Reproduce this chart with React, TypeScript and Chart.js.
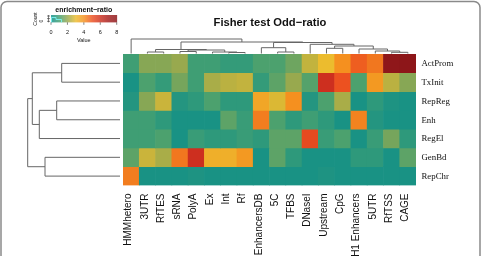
import { useEffect, useRef } from "react";
import { Chart, registerables } from "chart.js";

Chart.register(...registerables);

const columns = [
  "HMMhetero", "3UTR", "RfTES", "sRNA", "PolyA", "Ex", "Int", "Rf", "EnhancersDB",
  "5C", "TFBS", "DNaseI", "Upstream", "CpG", "H1 Enhancers", "5UTR", "RfTSS", "CAGE",
];
const rows = ["ActProm", "TxInit", "RepReg", "Enh", "RegEl", "GenBd", "RepChr"];

// Fisher odds ratios, one array per row, in column order
const actProm = [0.9, 1.8, 1.8, 2.0, 0.9, 0.9, 0.7, 0.7, 1.1, 1.1, 1.5, 2.5, 3.0, 4.0, 4.8, 4.4, 7.8, 7.9];
const txInit = [0.2, 1.1, 0.7, 1.6, 0.9, 2.2, 2.4, 2.5, 0.7, 1.3, 2.0, 1.2, 6.0, 5.0, 1.1, 3.8, 2.4, 1.8];
const repReg = [0.4, 1.8, 2.6, 0.4, 0.6, 1.1, 0.6, 0.6, 3.5, 2.8, 4.0, 0.4, 1.1, 2.2, 0.2, 0.6, 0.3, 0.2];
const enh = [0.9, 0.9, 0.6, 0.2, 0.2, 0.2, 1.3, 0.8, 4.3, 1.1, 0.6, 0.9, 0.6, 0.2, 4.2, 0.4, 0.2, 0.2];
const regEl = [0.9, 0.9, 1.1, 0.2, 0.8, 0.6, 0.6, 0.8, 0.6, 1.3, 1.3, 5.2, 0.8, 1.1, 0.2, 0.8, 1.6, 0.6];
const genBd = [1.3, 2.6, 2.2, 4.4, 6.0, 3.3, 3.3, 3.8, 0.2, 1.3, 0.6, 0.2, 0.2, 0.2, 0.6, 0.6, 0.2, 1.3];
const repChr = [4.3, 0.2, 0.2, 0.2, 0.3, 0.2, 0.2, 0.2, 0.2, 0.2, 0.2, 0.2, 0.3, 0.2, 0.2, 0.2, 0.2, 0.2];
const rowValues = [actProm, txInit, repReg, enh, regEl, genBd, repChr];

// colour key
const keyTicks = [0, 2, 4, 6, 8];
const keyStops: [number, string][] = [
  [0, "#0e8e89"], [1, "#44a072"], [2, "#98a94e"], [3, "#ecbc2e"],
  [4, "#f5901f"], [5, "#ec5120"], [6, "#cd2f1f"], [7, "#a41d1c"], [8, "#8a1519"],
];

// hclust-style merges: negative = leaf (1-based), positive = earlier merge (1-based)
const colMerge = [
  [-2, -3], [-4, -5], [-7, -8], [-6, 3], [2, 4], [1, 5], [-10, -11], [-9, 7],
  [-17, -18], [-16, 9], [-15, 10], [-13, -14], [12, 11], [-12, 13], [8, 14], [6, 15], [-1, 16],
];
const colHeight = [1.5, 2.0, 1.0, 1.5, 3.5, 4.0, 1.5, 5.8, 1.2, 2.5, 4.5, 5.2, 7.5, 9.2, 11.0, 11.5, 14.5];
const rowMerge = [[-1, -2], [-3, -4], [2, -5], [1, 3], [-6, -7], [4, 5]];
const rowHeight = [58.3, 63.3, 80.7, 87.7, 75.0, 92.3];

function hexToRgb(h: string): number[] {
  const n = parseInt(h.slice(1), 16);
  return [(n >> 16) & 255, (n >> 8) & 255, n & 255];
}

function ratioColor(v: number): string {
  const t = Math.max(0, Math.min(8, v));
  for (let i = 0; i < keyStops.length - 1; i++) {
    const [v0, c0] = keyStops[i];
    const [v1, c1] = keyStops[i + 1];
    if (t <= v1) {
      const f = (t - v0) / (v1 - v0);
      const a = hexToRgb(c0);
      const b = hexToRgb(c1);
      const m = a.map((x, k) => Math.round(x + (b[k] - x) * f));
      return `rgb(${m[0]},${m[1]},${m[2]})`;
    }
  }
  return keyStops[keyStops.length - 1][1];
}

function drawTree(
  ctx: CanvasRenderingContext2D,
  merge: number[][],
  height: number[],
  leafPos: (i: number) => number,
  heightPos: (h: number) => number,
  sideways: boolean,
) {
  const pos: number[] = [];
  const hgt: number[] = [];
  const node = (id: number) => (id < 0 ? { p: leafPos(-id - 1), h: 0 } : { p: pos[id - 1], h: hgt[id - 1] });
  merge.forEach(([a, b], k) => {
    const A = node(a);
    const B = node(b);
    const hp = heightPos(height[k]);
    ctx.beginPath();
    if (sideways) {
      ctx.moveTo(heightPos(A.h), A.p);
      ctx.lineTo(hp, A.p);
      ctx.lineTo(hp, B.p);
      ctx.lineTo(heightPos(B.h), B.p);
    } else {
      ctx.moveTo(A.p, heightPos(A.h));
      ctx.lineTo(A.p, hp);
      ctx.lineTo(B.p, hp);
      ctx.lineTo(B.p, heightPos(B.h));
    }
    ctx.stroke();
    pos[k] = (A.p + B.p) / 2;
    hgt[k] = height[k];
  });
}

const SANS = "'Liberation Sans', Arial, Helvetica, sans-serif";
const SERIF = "'Liberation Serif', 'Times New Roman', serif";

const heatmapDecor = {
  id: "heatmapDecor",
  beforeDraw(chart: any) {
    const { ctx, width, height } = chart;
    ctx.save();
    ctx.fillStyle = "#ffffff";
    ctx.fillRect(0, 0, width, height);
    ctx.restore();
  },
  afterDraw(chart: any) {
    const { ctx, chartArea: area } = chart;
    const xs = chart.scales.x;
    const ys = chart.scales.y;
    ctx.save();

    // frame: left, top and right edges with rounded top corners
    const r = 6;
    ctx.strokeStyle = "#8a8a8a";
    ctx.lineWidth = 1.5;
    ctx.beginPath();
    ctx.moveTo(1, 256);
    ctx.lineTo(1, 1.5 + r);
    ctx.arcTo(1, 1.5, 1 + r, 1.5, r);
    ctx.lineTo(480 - r, 1.5);
    ctx.arcTo(480, 1.5, 480, 1.5 + r, r);
    ctx.lineTo(480, 256);
    ctx.stroke();

    // title
    ctx.fillStyle = "#111";
    ctx.textAlign = "center";
    ctx.textBaseline = "alphabetic";
    ctx.font = `bold 11.2px ${SANS}`;
    ctx.fillText("Fisher test Odd\u2212ratio", 270, 25.5);

    // column dendrogram
    ctx.strokeStyle = "#666";
    ctx.lineWidth = 1;
    const colBase = area.top - 0.5;
    const colSpan = colBase - 39;
    const colMax = Math.max(...colHeight);
    drawTree(ctx, colMerge, colHeight, (i) => xs.getPixelForValue(i), (h) => colBase - (h / colMax) * colSpan, false);

    // row dendrogram
    const rowBase = area.left - 3;
    const rowSpan = rowBase - 27.7;
    const rowMax = Math.max(...rowHeight);
    drawTree(ctx, rowMerge, rowHeight, (i) => ys.getPixelForValue(i + 0.5), (h) => rowBase - (h / rowMax) * rowSpan, true);

    // row labels
    ctx.fillStyle = "#111";
    ctx.textAlign = "left";
    ctx.font = `8.8px ${SERIF}`;
    rows.forEach((name, i) => {
      ctx.fillText(name, area.right + 5.5, ys.getPixelForValue(i + 0.5) + 2.8);
    });

    // column labels, rotated
    ctx.font = `10px ${SANS}`;
    ctx.textAlign = "right";
    columns.forEach((name, c) => {
      ctx.save();
      ctx.translate(xs.getPixelForValue(c) + 0.2, area.bottom + 8);
      ctx.rotate(-Math.PI / 2);
      ctx.fillText(name, 0, 0);
      ctx.restore();
    });

    // colour key
    const kx0 = 51;
    const kx1 = 116.7;
    const ky0 = 15;
    const ky1 = 22.3;
    const keyX = (v: number) => kx0 + (v / 8) * (kx1 - kx0);
    for (let px = kx0; px < kx1; px += 0.5) {
      ctx.fillStyle = ratioColor(((px - kx0) / (kx1 - kx0)) * 8);
      ctx.fillRect(px, ky0, 0.6, ky1 - ky0);
    }
    // histogram trace
    ctx.strokeStyle = "#7fffff";
    ctx.lineWidth = 0.8;
    ctx.beginPath();
    ctx.moveTo(kx0 + 0.5, ky1);
    ctx.lineTo(kx0 + 0.5, 17.5);
    ctx.lineTo(56, 17.5);
    ctx.lineTo(56, 19.5);
    ctx.lineTo(61.5, 19.5);
    ctx.lineTo(61.5, ky1);
    ctx.stroke();
    // key axes
    ctx.strokeStyle = "#333";
    ctx.lineWidth = 0.6;
    ctx.beginPath();
    ctx.moveTo(48.5, ky0);
    ctx.lineTo(48.5, ky1);
    [16, 18.6, 21.3].forEach((yy) => {
      ctx.moveTo(47, yy);
      ctx.lineTo(50, yy);
    });
    keyTicks.forEach((v) => {
      ctx.moveTo(keyX(v), ky1);
      ctx.lineTo(keyX(v), ky1 + 2.5);
    });
    ctx.stroke();

    ctx.fillStyle = "#111";
    ctx.textAlign = "center";
    ctx.font = `bold 7px ${SANS}`;
    ctx.fillText("enrichment\u2212ratio", 83.8, 12.4);
    ctx.font = `5.5px ${SANS}`;
    keyTicks.forEach((v) => ctx.fillText(String(v), keyX(v), 33.8));
    ctx.fillText("Value", 83.8, 41.5);

    ctx.font = `5px ${SANS}`;
    ctx.save();
    ctx.translate(37, 19);
    ctx.rotate(-Math.PI / 2);
    ctx.fillText("Count", 0, 0);
    ctx.restore();
    ctx.save();
    ctx.translate(43, 21);
    ctx.rotate(-Math.PI / 2);
    ctx.fillText("0", 0, 0);
    ctx.restore();

    ctx.restore();
  },
};

export default function App() {
  const ref = useRef<HTMLCanvasElement>(null);
  useEffect(() => {
    document.body.style.margin = "0";
    document.body.style.overflow = "hidden";
    const chart = new Chart(ref.current as HTMLCanvasElement, {
      type: "bar",
      data: {
        labels: columns,
        datasets: rows.map((name, r) => ({
          label: name,
          data: rowValues[r].map((v, c) => ({ x: columns[c], y: [r, r + 1], v })),
          backgroundColor: (ctx: any) => ratioColor(ctx.raw ? ctx.raw.v : 0),
          borderWidth: 0,
          barPercentage: 1,
          categoryPercentage: 1,
          grouped: false,
        })) as any,
      },
      options: {
        responsive: false,
        animation: false,
        devicePixelRatio: 1,
        events: [],
        layout: { padding: { left: 123, right: 65, top: 54, bottom: 70.5 } },
        scales: {
          x: { type: "category", display: false, offset: true },
          y: { type: "linear", min: 0, max: 7, reverse: true, display: false },
        },
        plugins: {
          legend: { display: false },
          tooltip: { enabled: false },
        },
      } as any,
      plugins: [heatmapDecor],
    });
    return () => chart.destroy();
  }, []);
  return <canvas ref={ref} width={481} height={256} style={{ display: "block" }} />;
}
